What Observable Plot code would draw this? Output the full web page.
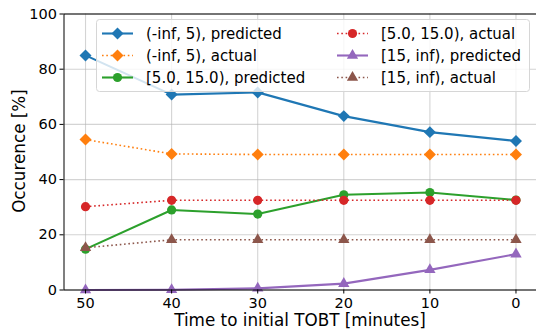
<!DOCTYPE html>
<html><head><meta charset="utf-8">
<script src="https://cdn.jsdelivr.net/npm/d3@7"></script>
<script src="https://cdn.jsdelivr.net/npm/@observablehq/plot@0.6"></script>
<style>body{margin:0;background:#fff}</style>
</head><body><div id="chart"></div>
<script>
const times = [50, 40, 30, 20, 10, 0];
const lowPred = [85.0, 70.8, 71.6, 63.0, 57.2, 54.0];
const lowAct = [54.5, 49.3, 49.1, 49.1, 49.1, 49.1];
const midPred = [14.8, 29.0, 27.5, 34.5, 35.3, 32.6];
const midAct = [30.2, 32.5, 32.5, 32.5, 32.5, 32.5];
const highPred = [0.0, 0.1, 0.6, 2.3, 7.3, 13.0];
const highAct = [15.3, 18.2, 18.2, 18.2, 18.2, 18.2];
const seriesNames = ["(-inf, 5), predicted", "(-inf, 5), actual", "[5.0, 15.0), predicted", "[5.0, 15.0), actual", "[15, inf), predicted", "[15, inf), actual"];
const seriesColors = ["#1f77b4", "#ff7f0e", "#2ca02c", "#d62728", "#9467bd", "#8c564b"];
const seriesSymbols = ["diamond2", "diamond2", "circle", "circle", "triangle", "triangle"];
const seriesDotted = [false, true, false, true, false, true];
const xTicks = [50, 40, 30, 20, 10, 0];
const yTicks = [0, 20, 40, 60, 80, 100];
const xLabel = "Time to initial TOBT [minutes]";
const yLabel = "Occurence [%]";

const seriesValues = [lowPred, lowAct, midPred, midAct, highPred, highAct];
const symR = {diamond2: 5.4, circle: 4.6, triangle: 4.2};

const marks = [
  Plot.gridX(xTicks, {stroke: "#b0b0b0", strokeOpacity: 0.55, strokeWidth: 1.1}),
  Plot.gridY(yTicks, {stroke: "#b0b0b0", strokeOpacity: 0.55, strokeWidth: 1.1}),
];
seriesValues.forEach((vals, i) => {
  const rows = times.map((t, j) => ({t, v: vals[j]}));
  marks.push(Plot.line(rows, {
    x: "t", y: "v", stroke: seriesColors[i],
    strokeWidth: seriesDotted[i] ? 1.6 : 2.1,
    strokeDasharray: seriesDotted[i] ? "1.6,2.7" : null,
    strokeLinecap: "butt"
  }));
  marks.push(Plot.dot(rows, {
    x: "t", y: "v", fill: seriesColors[i], stroke: "none",
    symbol: () => seriesSymbols[i], r: symR[seriesSymbols[i]]
  }));
});
marks.push(Plot.frame({stroke: "#000", strokeWidth: 1}));
marks.push(Plot.axisX(xTicks, {tickSize: 4, tickPadding: 4, fontSize: 14.5, label: null}));
marks.push(Plot.axisY(yTicks, {tickSize: 4, tickPadding: 3, fontSize: 14.5, label: null}));

const chart = Plot.plot({
  width: 536, height: 329,
  marginLeft: 63.5, marginRight: -1, marginTop: 13.5, marginBottom: 39.5,
  style: {fontFamily: "DejaVu Sans", background: "#fff", color: "#000"},
  x: {type: "linear", domain: [52.5, -2.5]},
  y: {domain: [0, 100]},
  marks
});
document.getElementById("chart").append(chart);

const svg = d3.select(chart);
svg.append("text").attr("x", 300).attr("y", 326).attr("text-anchor", "middle")
  .attr("font-family", "DejaVu Sans").attr("font-size", 16.8).attr("fill", "#000").text(xLabel);
svg.append("text").attr("transform", "translate(25,151) rotate(-90)").attr("text-anchor", "middle")
  .attr("font-family", "DejaVu Sans").attr("font-size", 16.8).attr("fill", "#000").text(yLabel);

// legend
const lg = svg.append("g").attr("font-family", "DejaVu Sans").attr("font-size", 15).attr("text-anchor", "start");
lg.append("rect").attr("x", 96.5).attr("y", 19.5).attr("width", 433).attr("height", 72).attr("rx", 3)
  .attr("fill", "#fff").attr("fill-opacity", 0.8).attr("stroke", "#d6d6d6");
const colX = [102, 337];
const rowY = [33.5, 55.5, 77.5];
seriesNames.forEach((name, i) => {
  const cx = colX[Math.floor(i / 3)], cy = rowY[i % 3];
  lg.append("line").attr("x1", cx).attr("x2", cx + 31).attr("y1", cy).attr("y2", cy)
    .attr("stroke", seriesColors[i]).attr("stroke-width", seriesDotted[i] ? 1.6 : 2.1)
    .attr("stroke-dasharray", seriesDotted[i] ? "1.6,2.7" : null);
  const sym = {diamond2: d3.symbolDiamond2, circle: d3.symbolCircle, triangle: d3.symbolTriangle}[seriesSymbols[i]];
  const r = symR[seriesSymbols[i]];
  lg.append("path").attr("transform", `translate(${cx + 15.5},${cy})`)
    .attr("d", d3.symbol(sym, Math.PI * r * r)()).attr("fill", seriesColors[i]);
  lg.append("text").attr("x", cx + 44).attr("y", cy).attr("dy", "0.35em").attr("text-anchor", "start").attr("fill", "#000").text(name);
});
</script></body></html>
